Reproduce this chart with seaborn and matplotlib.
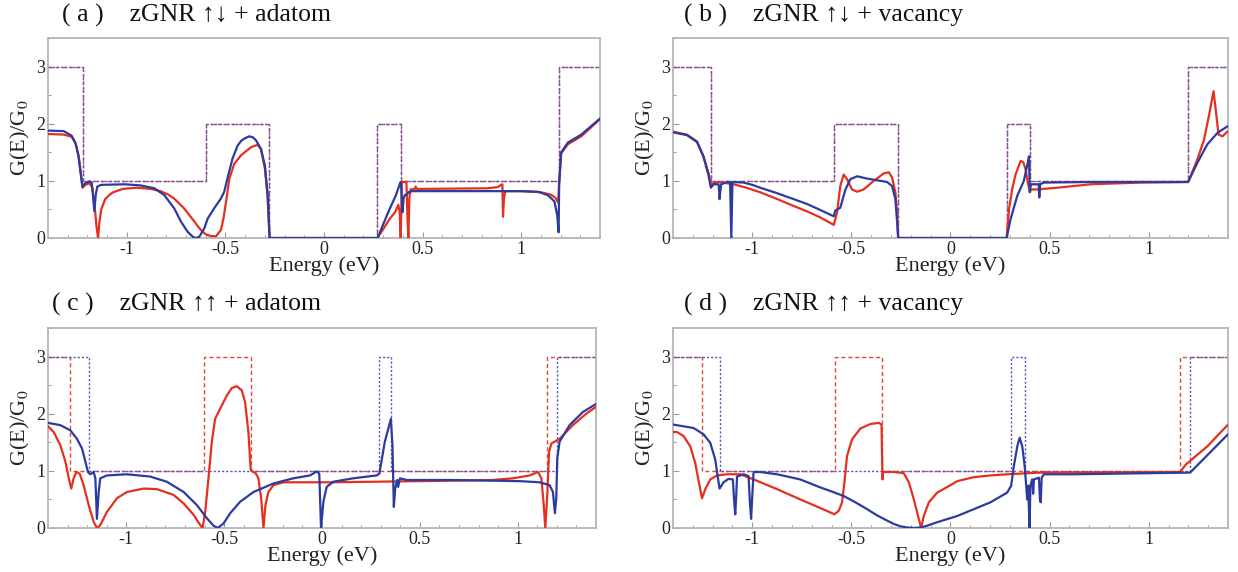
import matplotlib
matplotlib.use("Agg")
import matplotlib.pyplot as plt
from matplotlib.ticker import MultipleLocator
import numpy as np
import pandas as pd
import seaborn as sns

sns.set_theme(style="white")
plt.rcParams["font.family"] = ["Liberation Serif", "DejaVu Serif"]
plt.rcParams["mathtext.fontset"] = "stix"
plt.rcParams["axes.unicode_minus"] = False

RED = "#e3301f"
BLUE = "#2b3b9f"
RED_STEP = "#e04a3a"
BLUE_STEP = "#4f5ac4"

# ---------------- (a) zGNR up-down + adatom ----------------
a_red = [(-1.40, 1.82), (-1.32, 1.81), (-1.28, 1.77), (-1.26, 1.65), (-1.245, 1.45),
         (-1.235, 1.18), (-1.225, 0.88), (-1.21, 0.93), (-1.19, 0.96), (-1.175, 0.88),
         (-1.163, 0.55), (-1.154, 0.20), (-1.146, 0.0), (-1.139, 0.28), (-1.13, 0.50),
         (-1.11, 0.68), (-1.09, 0.75), (-1.07, 0.80), (-1.02, 0.86), (-0.95, 0.88),
         (-0.88, 0.86), (-0.83, 0.82), (-0.79, 0.76), (-0.76, 0.69), (-0.71, 0.52),
         (-0.66, 0.30), (-0.625, 0.14), (-0.60, 0.064), (-0.575, 0.035), (-0.548, 0.03),
         (-0.523, 0.14), (-0.51, 0.34), (-0.497, 0.63), (-0.48, 1.04), (-0.455, 1.30),
         (-0.42, 1.45), (-0.37, 1.59), (-0.337, 1.63), (-0.32, 1.56), (-0.30, 1.22),
         (-0.286, 0.75), (-0.276, 0.0),
         (0.27, 0.0), (0.30, 0.15), (0.33, 0.32), (0.36, 0.45), (0.377, 0.58),
         (0.384, 0.45), (0.389, 0.0), (0.395, 0.98), (0.418, 0.98), (0.424, 0.30),
         (0.428, 0.0), (0.433, 0.70), (0.44, 0.85), (0.46, 0.86), (0.465, 0.90),
         (0.47, 0.86), (0.50, 0.86), (0.83, 0.87), (0.88, 0.89), (0.905, 0.94),
         (0.908, 0.37), (0.913, 0.70), (0.92, 0.82), (1.0, 0.82), (1.10, 0.80),
         (1.15, 0.76), (1.175, 0.70), (1.188, 0.62), (1.192, 0.95), (1.203, 1.48),
         (1.237, 1.64), (1.305, 1.78), (1.40, 2.08)]
a_blue = [(-1.40, 1.88), (-1.32, 1.87), (-1.28, 1.79), (-1.26, 1.66), (-1.245, 1.42),
          (-1.235, 1.15), (-1.225, 0.90), (-1.21, 0.96), (-1.19, 0.99), (-1.178, 0.97),
          (-1.172, 0.75), (-1.165, 0.47), (-1.158, 0.75), (-1.15, 0.90), (-1.13, 0.93),
          (-1.01, 0.94), (-0.93, 0.92), (-0.86, 0.87), (-0.81, 0.75), (-0.76, 0.52),
          (-0.726, 0.29), (-0.692, 0.11), (-0.665, 0.02), (-0.65, 0.0), (-0.633, 0.02),
          (-0.607, 0.17), (-0.59, 0.34), (-0.557, 0.52), (-0.523, 0.69), (-0.506, 0.81),
          (-0.49, 1.04), (-0.464, 1.39), (-0.438, 1.62), (-0.42, 1.70), (-0.404, 1.74),
          (-0.379, 1.78), (-0.36, 1.76), (-0.345, 1.71), (-0.32, 1.56), (-0.30, 1.27),
          (-0.286, 0.75), (-0.276, 0.0),
          (0.272, 0.0), (0.323, 0.43), (0.365, 0.75), (0.388, 0.98), (0.392, 0.88),
          (0.398, 0.45), (0.404, 0.70), (0.41, 0.75), (0.421, 0.76), (0.428, 0.80),
          (0.442, 0.82), (0.60, 0.82), (1.0, 0.82), (1.085, 0.81), (1.135, 0.75),
          (1.169, 0.64), (1.183, 0.40), (1.19, 0.10), (1.193, 0.95), (1.203, 1.50),
          (1.237, 1.67), (1.305, 1.81), (1.40, 2.09)]
a_step_edges = [-1.40, -1.225, -0.60, -0.28, 0.27, 0.39, 1.19, 1.40]
a_step_blue = [3, 1, 2, 0, 2, 1, 3, 3]
a_step_red = [3, 1, 2, 0, 2, 1, 3, 3]

# ---------------- (b) zGNR up-down + vacancy ----------------
b_red = [(-1.40, 1.86), (-1.33, 1.81), (-1.279, 1.69), (-1.246, 1.43), (-1.221, 1.14),
         (-1.209, 0.94), (-1.195, 0.96), (-1.17, 0.98), (-1.094, 0.94), (-1.03, 0.88),
         (-0.96, 0.80), (-0.88, 0.69), (-0.791, 0.56), (-0.72, 0.46), (-0.657, 0.36),
         (-0.589, 0.23), (-0.572, 0.45), (-0.556, 0.91), (-0.539, 1.11), (-0.522, 1.03),
         (-0.497, 0.85), (-0.471, 0.81), (-0.438, 0.85), (-0.387, 1.0), (-0.337, 1.13),
         (-0.311, 1.15), (-0.295, 1.06), (-0.278, 0.80), (-0.269, 0.39), (-0.264, 0.0),
         (0.283, 0.0), (0.295, 0.50), (0.311, 0.85), (0.328, 1.11), (0.354, 1.35),
         (0.367, 1.33), (0.379, 1.20), (0.39, 0.97), (0.40, 0.82), (0.412, 0.85),
         (0.438, 0.85), (0.539, 0.88), (0.707, 0.94), (0.96, 0.97), (1.199, 0.98),
         (1.246, 1.38), (1.279, 1.72), (1.305, 2.16), (1.327, 2.57), (1.34, 2.19),
         (1.352, 1.81), (1.372, 1.78), (1.40, 1.87)]
b_blue = [(-1.40, 1.85), (-1.33, 1.80), (-1.279, 1.68), (-1.246, 1.42), (-1.221, 1.10),
          (-1.209, 0.88), (-1.195, 0.94), (-1.17, 0.94), (-1.167, 0.80), (-1.165, 0.68),
          (-1.162, 0.80), (-1.157, 0.94), (-1.128, 0.98), (-1.112, 0.98), (-1.106, 0.0),
          (-1.10, 0.98), (-1.044, 0.97), (-1.0, 0.93), (-0.96, 0.88), (-0.88, 0.79),
          (-0.791, 0.68), (-0.72, 0.59), (-0.657, 0.49), (-0.589, 0.38), (-0.581, 0.48),
          (-0.556, 0.53), (-0.53, 0.85), (-0.505, 1.03), (-0.471, 1.08), (-0.421, 1.04),
          (-0.354, 1.0), (-0.32, 0.98), (-0.295, 0.91), (-0.278, 0.68), (-0.269, 0.27),
          (-0.264, 0.0),
          (0.283, 0.0), (0.303, 0.33), (0.337, 0.74), (0.37, 1.0), (0.39, 1.32),
          (0.396, 1.43), (0.40, 0.80), (0.406, 0.94), (0.445, 0.94), (0.448, 0.71),
          (0.452, 0.94), (0.471, 0.97), (0.707, 0.98), (1.199, 0.98), (1.246, 1.32),
          (1.296, 1.64), (1.347, 1.84), (1.40, 1.96)]
b_step_edges = [-1.40, -1.209, -0.589, -0.266, 0.283, 0.40, 1.199, 1.40]
b_step_blue = [3, 1, 2, 0, 2, 1, 3, 3]
b_step_red = [3, 1, 2, 0, 2, 1, 3, 3]

# ---------------- (c) zGNR up-up + adatom ----------------
c_red = [(-1.40, 1.78), (-1.371, 1.68), (-1.337, 1.45), (-1.311, 1.16), (-1.294, 0.87),
         (-1.281, 0.69), (-1.269, 0.87), (-1.255, 0.98), (-1.238, 0.95), (-1.218, 0.75),
         (-1.192, 0.40), (-1.167, 0.11), (-1.15, 0.0), (-1.133, 0.05), (-1.099, 0.28),
         (-1.048, 0.52), (-0.997, 0.63), (-0.912, 0.69), (-0.844, 0.68), (-0.759, 0.58),
         (-0.707, 0.43), (-0.656, 0.23), (-0.622, 0.05), (-0.61, 0.0), (-0.597, 0.28),
         (-0.58, 0.87), (-0.563, 1.51), (-0.546, 1.91), (-0.52, 2.09), (-0.486, 2.32),
         (-0.461, 2.45), (-0.435, 2.48), (-0.41, 2.41), (-0.393, 2.20), (-0.376, 1.68),
         (-0.364, 1.01), (-0.35, 0.98), (-0.337, 0.95), (-0.325, 0.87), (-0.311, 0.52),
         (-0.299, 0.0), (-0.289, 0.40), (-0.274, 0.63), (-0.248, 0.75), (-0.197, 0.80),
         (0.04, 0.80), (0.50, 0.82), (0.874, 0.84), (0.976, 0.87), (1.061, 0.92),
         (1.104, 0.98), (1.121, 0.87), (1.133, 0.40), (1.141, 0.0), (1.151, 0.58),
         (1.16, 1.33), (1.172, 1.48), (1.214, 1.56), (1.282, 1.80), (1.35, 2.0),
         (1.40, 2.12)]
c_blue = [(-1.40, 1.84), (-1.337, 1.80), (-1.286, 1.71), (-1.252, 1.56), (-1.226, 1.39),
          (-1.209, 1.16), (-1.196, 0.98), (-1.184, 0.94), (-1.167, 0.98), (-1.158, 0.87),
          (-1.15, 0.16), (-1.141, 0.63), (-1.133, 0.87), (-1.099, 0.92), (-0.997, 0.94),
          (-0.878, 0.90), (-0.793, 0.81), (-0.707, 0.63), (-0.639, 0.40), (-0.588, 0.17),
          (-0.554, 0.04), (-0.532, 0.0), (-0.503, 0.08), (-0.469, 0.26), (-0.418, 0.46),
          (-0.35, 0.63), (-0.248, 0.78), (-0.146, 0.87), (-0.061, 0.92), (-0.027, 0.99),
          (-0.014, 0.95), (-0.005, 0.0), (0.007, 0.46), (0.024, 0.72), (0.058, 0.81),
          (0.16, 0.87), (0.279, 0.92), (0.293, 0.95), (0.321, 1.51), (0.352, 1.91),
          (0.36, 1.45), (0.367, 0.37), (0.374, 0.69), (0.384, 0.84), (0.389, 0.72),
          (0.398, 0.87), (0.432, 0.84), (0.67, 0.84), (1.01, 0.82), (1.112, 0.80),
          (1.163, 0.75), (1.18, 0.63), (1.19, 0.26), (1.197, 0.52), (1.202, 1.22),
          (1.214, 1.51), (1.265, 1.80), (1.333, 2.03), (1.40, 2.17)]
c_blue_step_edges = [-1.40, -1.192, 0.293, 0.355, 1.20, 1.40]
c_blue_step = [3, 1, 3, 1, 3, 3]
c_red_step_edges = [-1.40, -1.286, -0.605, -0.364, 1.15, 1.40]
c_red_step = [3, 1, 3, 1, 3, 3]

# ---------------- (d) zGNR up-up + vacancy ----------------
d_red = [(-1.40, 1.68), (-1.38, 1.68), (-1.347, 1.61), (-1.313, 1.43), (-1.288, 1.14),
         (-1.266, 0.74), (-1.254, 0.52), (-1.237, 0.68), (-1.212, 0.85), (-1.178, 0.92),
         (-1.128, 0.94), (-1.061, 0.94), (-0.993, 0.85), (-0.875, 0.68), (-0.758, 0.50),
         (-0.657, 0.35), (-0.586, 0.24), (-0.564, 0.30), (-0.547, 0.45), (-0.535, 0.80),
         (-0.522, 1.26), (-0.497, 1.55), (-0.455, 1.74), (-0.404, 1.82), (-0.362, 1.84),
         (-0.348, 1.81), (-0.343, 0.85), (-0.34, 0.98), (-0.286, 0.98), (-0.236, 0.96),
         (-0.21, 0.80), (-0.185, 0.50), (-0.16, 0.16), (-0.148, 0.0), (-0.135, 0.21),
         (-0.109, 0.45), (-0.067, 0.62), (0.0, 0.75), (0.034, 0.82), (0.118, 0.89),
         (0.202, 0.92), (0.286, 0.94), (0.455, 0.97), (1.158, 0.98), (1.187, 1.11),
         (1.296, 1.43), (1.40, 1.81)]
d_blue = [(-1.40, 1.81), (-1.296, 1.75), (-1.246, 1.64), (-1.212, 1.49), (-1.187, 1.20),
          (-1.175, 0.91), (-1.165, 0.69), (-1.145, 0.80), (-1.12, 0.86), (-1.098, 0.85),
          (-1.091, 0.45), (-1.086, 0.24), (-1.081, 0.56), (-1.077, 0.90), (-1.044, 0.94),
          (-1.019, 0.91), (-1.012, 0.45), (-1.006, 0.16), (-1.0, 0.56), (-0.994, 0.96),
          (-0.99, 0.98), (-0.96, 0.98), (-0.875, 0.94), (-0.758, 0.85), (-0.657, 0.71),
          (-0.60, 0.64), (-0.539, 0.56), (-0.48, 0.45), (-0.421, 0.33), (-0.37, 0.22),
          (-0.32, 0.13), (-0.285, 0.07), (-0.253, 0.03), (-0.22, 0.01), (-0.185, 0.0),
          (-0.15, 0.01), (-0.118, 0.04), (-0.085, 0.08), (-0.05, 0.12), (0.034, 0.21),
          (0.118, 0.33), (0.202, 0.45), (0.286, 0.62), (0.306, 0.74), (0.32, 1.09),
          (0.337, 1.43), (0.349, 1.58), (0.362, 1.43), (0.374, 1.09), (0.382, 0.74),
          (0.387, 0.50), (0.392, 0.74), (0.396, 0.30), (0.399, 0.0), (0.403, 0.74),
          (0.412, 0.85), (0.417, 0.60), (0.421, 0.85), (0.446, 0.88), (0.451, 0.50),
          (0.455, 0.45), (0.46, 0.88), (0.471, 0.94), (0.623, 0.94), (1.209, 0.97),
          (1.40, 1.64)]
d_blue_step_edges = [-1.40, -1.162, 0.306, 0.374, 1.209, 1.40]
d_blue_step = [3, 1, 3, 1, 3, 3]
d_red_step_edges = [-1.40, -1.254, -0.581, -0.345, 1.158, 1.40]
d_red_step = [3, 1, 3, 1, 3, 3]

titles = ["( a )    zGNR ↑↓ + adatom", "( b )    zGNR ↑↓ + vacancy",
          "( c )    zGNR ↑↑ + adatom", "( d )    zGNR ↑↑ + vacancy"]
x_ticks = [-1, -0.5, 0, 0.5, 1]
x_tick_labels = ["-1", "-0.5", "0", "0.5", "1"]
y_ticks = [0, 1, 2, 3]

panels = [
    dict(red=a_red, blue=a_blue,
         red_step=(a_step_edges, a_step_red), blue_step=(a_step_edges, a_step_blue)),
    dict(red=b_red, blue=b_blue,
         red_step=(b_step_edges, b_step_red), blue_step=(b_step_edges, b_step_blue)),
    dict(red=c_red, blue=c_blue,
         red_step=(c_red_step_edges, c_red_step), blue_step=(c_blue_step_edges, c_blue_step)),
    dict(red=d_red, blue=d_blue,
         red_step=(d_red_step_edges, d_red_step), blue_step=(d_blue_step_edges, d_blue_step)),
]

W, H = 1238, 572
fig = plt.figure(figsize=(W / 100, H / 100), dpi=100)

# axes boxes in pixels: left, right, top, bottom
boxes = [(48, 600, 38, 238), (673, 1228, 38, 238),
         (48, 596, 328, 528), (673, 1228, 328, 528)]
title_pos = [(62, 15), (684, 15), (52, 304), (684, 304)]


def curve_frame(points):
    return pd.DataFrame(points, columns=["E", "G"])


for i, (panel, box) in enumerate(zip(panels, boxes)):
    l, r, t, b = box
    ax = fig.add_axes([l / W, 1 - b / H, (r - l) / W, (b - t) / H])

    edges, levels = panel["red_step"]
    sns.lineplot(x=edges, y=levels, ax=ax, color=RED_STEP, lw=1.0,
                 drawstyle="steps-post", linestyle=(0, (3, 2)),
                 sort=False, estimator=None, zorder=2)
    edges, levels = panel["blue_step"]
    sns.lineplot(x=edges, y=levels, ax=ax, color=BLUE_STEP, lw=1.0,
                 drawstyle="steps-post", linestyle=(0, (1.6, 1.4)),
                 sort=False, estimator=None, zorder=2.1)

    red = curve_frame(panel["red"])
    blue = curve_frame(panel["blue"])
    sns.lineplot(data=red, x="E", y="G", ax=ax, color=RED, lw=1.6,
                 sort=False, estimator=None, zorder=3)
    sns.lineplot(data=blue, x="E", y="G", ax=ax, color=BLUE, lw=1.6,
                 sort=False, estimator=None, zorder=3.1)

    ax.set_xlim(-1.4, 1.4)
    ax.set_ylim(0, 3.5)
    ax.set_xticks(x_ticks)
    ax.set_xticklabels(x_tick_labels)
    ax.set_yticks(y_ticks)
    ax.xaxis.set_minor_locator(MultipleLocator(0.1))
    ax.yaxis.set_minor_locator(MultipleLocator(0.5))
    ax.tick_params(which="major", direction="in", length=4, width=0.8,
                   color="#9a9a9a", labelsize=13, pad=2, labelcolor="#222222")
    ax.tick_params(which="minor", direction="in", length=2.5, width=0.7,
                   color="#9a9a9a")
    ax.tick_params(axis="x", bottom=True, which="both")
    ax.tick_params(axis="y", left=True, which="both")
    for s in ax.spines.values():
        s.set_color("#b5b5b5")
        s.set_linewidth(1.3)
    ax.set_xlabel("Energy (eV)", fontsize=16, labelpad=-1, color="#222222")
    ax.set_ylabel("G(E)/G$_0$", fontsize=16, labelpad=3, color="#222222")
    ax.grid(False)

    tx, ty = title_pos[i]
    fig.text(tx / W, 1 - ty / H, titles[i], fontsize=18.5, ha="left", va="center",
             color="#111111")

fig.savefig("out.png", dpi=100)
